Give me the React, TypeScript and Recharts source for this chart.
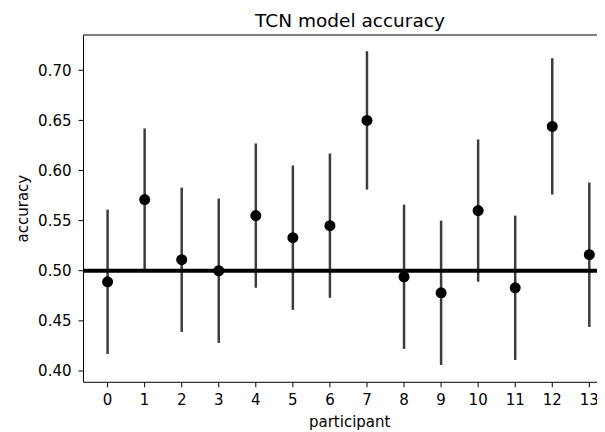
import React from 'react';
import {
  ComposedChart,
  Scatter,
  ErrorBar,
  XAxis,
  YAxis,
  ReferenceLine,
  Customized,
} from 'recharts';

const participants = [0, 1, 2, 3, 4, 5, 6, 7, 8, 9, 10, 11, 12, 13];
const accuracy = [0.489, 0.571, 0.511, 0.5, 0.555, 0.533, 0.545, 0.65, 0.494, 0.478, 0.56, 0.483, 0.644, 0.516];
const errors = [0.072, 0.071, 0.072, 0.072, 0.072, 0.072, 0.072, 0.069, 0.072, 0.072, 0.071, 0.072, 0.068, 0.072];
const yTicks = [0.4, 0.45, 0.5, 0.55, 0.6, 0.65, 0.7];
const chanceLevel = 0.5;
const yDomain: [number, number] = [0.3887, 0.7352];
const xDomain: [number, number] = [-0.65, 13.65];

const data = participants.map((p, i) => ({ participant: p, accuracy: accuracy[i], err: errors[i] }));

const FONT = 'DejaVu Sans';
const TICK_FS = 15;
const TITLE_FS = 18.5;

const Dot = (props: any) => {
  const { cx, cy } = props;
  if (cx == null || cy == null) return null;
  return <circle cx={cx} cy={cy} r={5.5} fill="#000" />;
};

const Texts = () => (
  <g fontFamily={FONT} fill="#000">
    <text x={342} y={18.7} textAnchor="middle" fontSize={TITLE_FS}>
      TCN model accuracy
    </text>
    <text x={341.7} y={418.7} textAnchor="middle" fontSize={TICK_FS}>
      participant
    </text>
    <text
      x={20.3}
      y={200.6}
      textAnchor="middle"
      fontSize={TICK_FS}
      transform="rotate(-90, 20.3, 200.6)"
    >
      accuracy
    </text>
  </g>
);

export default function App() {
  return (
    <div style={{ width: 597, height: 424, overflow: 'hidden' }}>
      <ComposedChart
        width={620}
        height={424}
        data={data}
        margin={{ top: 27, right: 14.6, left: 0, bottom: 0 }}
        style={{ background: '#fff' }}
      >
        <XAxis
          dataKey="participant"
          type="number"
          domain={xDomain}
          ticks={participants}
          interval={0}
          allowDataOverflow
          height={49.7}
          tickSize={5}
          tickMargin={7}
          stroke="#000"
          axisLine={{ stroke: '#000', strokeWidth: 1 }}
          tickLine={{ stroke: '#000', strokeWidth: 1 }}
          tick={{ fill: '#000', fontSize: TICK_FS, fontFamily: FONT }}
        />
        <YAxis
          type="number"
          domain={yDomain}
          ticks={yTicks}
          allowDataOverflow
          width={75.5}
          tickSize={5}
          tickMargin={7}
          tickFormatter={(v: number) => v.toFixed(2)}
          axisLine={{ stroke: '#000', strokeWidth: 1 }}
          tickLine={{ stroke: '#000', strokeWidth: 1 }}
          tick={{ fill: '#000', fontSize: TICK_FS, fontFamily: FONT }}
        />
        <ReferenceLine y={yDomain[1]} stroke="#000" strokeWidth={1} ifOverflow="visible" />
        <ReferenceLine x={xDomain[1]} stroke="#000" strokeWidth={1} ifOverflow="visible" />
        <Scatter dataKey="accuracy" shape={<Dot />} isAnimationActive={false}>
          <ErrorBar dataKey="err" direction="y" width={0} stroke="#3d3d3d" strokeWidth={2.5} isAnimationActive={false} />
        </Scatter>
        <ReferenceLine y={chanceLevel} stroke="#000" strokeWidth={4} />
        <Customized component={Texts} />
      </ComposedChart>
    </div>
  );
}
